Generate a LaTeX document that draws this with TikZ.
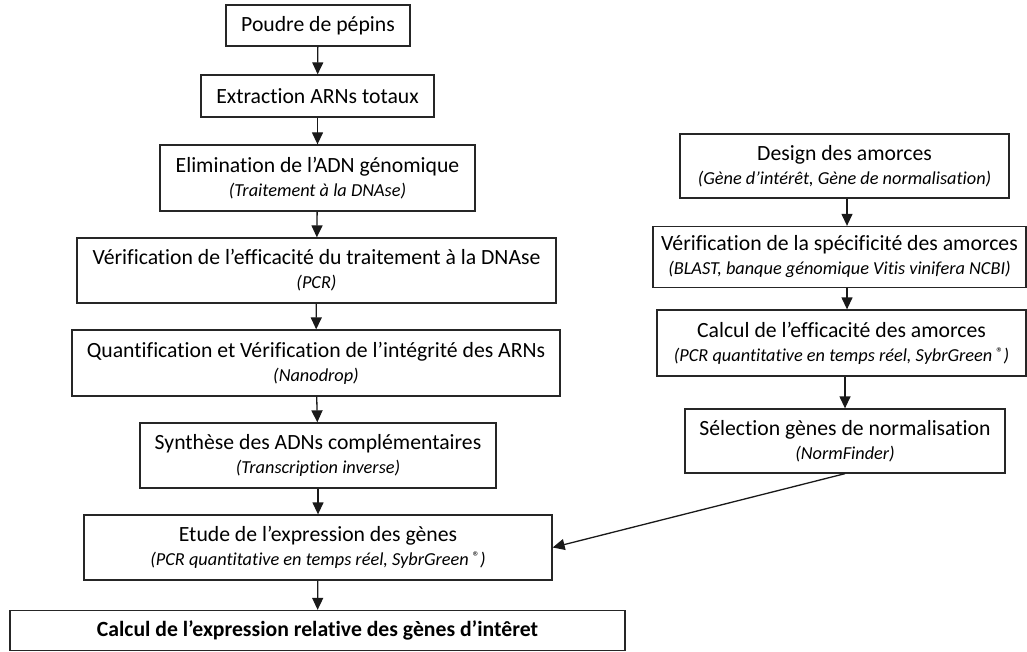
\documentclass[tikz,border=0pt]{standalone}
\usepackage{fontspec}
\setmainfont[Ligatures=NoCommon]{Carlito}
\usetikzlibrary{arrows.meta}
\tikzset{
  box/.style={draw=black!85, line width=1.3pt, fill=white, inner sep=0pt, align=center,
    font=\fontsize{21.7}{24}\selectfont},
  arr/.style={draw=black!90, line width=1.3pt, -{Triangle[length=12pt,width=11pt]}},
}
\newcommand{\sub}[1]{\\[0pt]{\fontsize{18.3}{20}\selectfont\itshape #1}}
\newcommand{\regm}{{\fontsize{14}{14}\selectfont\upshape\raisebox{4pt}{®}}}
\begin{document}
\begin{tikzpicture}[x=1pt,y=-1pt]
\useasboundingbox (0,0) rectangle (1027,652);
% left column
\node[box, minimum width=184pt, minimum height=41pt] (b1) at (318,25.5) {Poudre de pépins};
\node[box, minimum width=233pt, minimum height=42pt] (b2) at (317.5,96) {Extraction ARNs totaux};
\node[box, minimum width=315pt, minimum height=66pt] (b3) at (317.5,178) {Elimination de l’ADN génomique\sub{(Traitement à la DNAse)}};
\node[box, minimum width=479pt, minimum height=65pt] (b4) at (316.5,270.5) {Vérification de l’efficacité du traitement à la DNAse\sub{(PCR)}};
\node[box, minimum width=488pt, minimum height=66pt] (b5) at (316,363) {Quantification et Vérification de l’intégrité des ARNs\sub{(Nanodrop)}};
\node[box, minimum width=356pt, minimum height=65pt] (b6) at (318,455.5) {Synthèse des ADNs complémentaires\sub{(Transcription inverse)}};
\node[box, minimum width=468pt, minimum height=65pt] (b7) at (318,547.5) {Etude de l’expression des gènes\sub{(PCR quantitative en temps réel, SybrGreen \regm)}};
\node[box, minimum width=615pt, minimum height=40pt, font=\fontsize{21.7}{24}\selectfont\bfseries] (b8) at (317.5,630.5) {Calcul de l’expression relative des gènes d’intêret};
% right column
\node[box, minimum width=329pt, minimum height=64pt] (r1) at (844.5,166) {Design des amorces\sub{(Gène d’intérêt, Gène de normalisation)}};
\node[box, minimum width=373pt, minimum height=61pt] (r2) at (839.5,257) {Vérification de la spécificité des amorces\sub{(BLAST, banque génomique Vitis vinifera NCBI)}};
\node[box, minimum width=369pt, minimum height=66pt] (r3) at (841.5,343) {Calcul de l’efficacité des amorces\sub{(PCR quantitative en temps réel, SybrGreen \regm)}};
\node[box, minimum width=320pt, minimum height=64pt] (r4) at (845,441) {Sélection gènes de normalisation\sub{(NormFinder)}};
% connectors
\draw[arr] (b1) -- (b2);
\draw[arr] (b2) -- (b3);
\draw[arr] (b3) -- (b4);
\draw[arr] (b4) -- (b5);
\draw[arr] (b5) -- (b6);
\draw[arr] (b6) -- (b7);
\draw[arr] (b7) -- (b8);
\draw[arr] (r1.south -| 847,0) -- (r2.north -| 847,0);
\draw[arr] (r2.south -| 847,0) -- (r3.north -| 847,0);
\draw[arr] (r3.south -| r4.north) -- (r4.north);
\draw[arr] (r4.south) -- (b7.east);
\end{tikzpicture}
\end{document}
